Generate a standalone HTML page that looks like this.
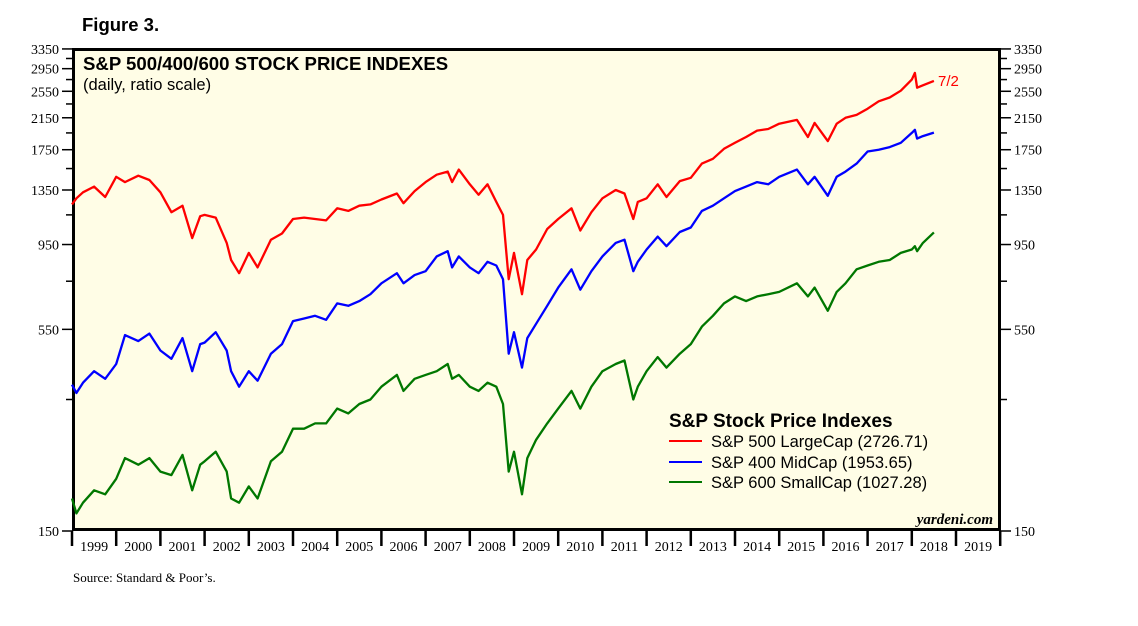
<!DOCTYPE html>
<html><head><meta charset="utf-8"><style>
body{margin:0;background:#fff;}
svg text{font-family:"Liberation Sans",sans-serif;}
</style></head><body>
<svg id="chart" width="1138" height="621" xmlns="http://www.w3.org/2000/svg">
<text x="82" y="31" font-size="18.5" font-weight="bold">Figure 3.</text>
<rect x="73.5" y="49.5" width="926" height="480" fill="#fffde6" stroke="#000" stroke-width="3"/>
<g id="grid"></g>
<g id="series"></g>
<text x="83" y="70" font-size="18.6" font-weight="bold">S&amp;P 500/400/600 STOCK PRICE INDEXES</text>
<text x="83" y="90" font-size="16.5">(daily, ratio scale)</text>
<text x="938" y="86" font-size="15" fill="#f00">7/2</text>
<g>
<text x="669" y="427" font-size="19" font-weight="bold">S&amp;P Stock Price Indexes</text>
<line x1="669" y1="441" x2="702" y2="441" stroke="#f00" stroke-width="2"/>
<text x="711" y="447" font-size="16.5">S&amp;P 500 LargeCap (2726.71)</text>
<line x1="669" y1="462" x2="702" y2="462" stroke="#00f" stroke-width="2"/>
<text x="711" y="468" font-size="16.5">S&amp;P 400 MidCap (1953.65)</text>
<line x1="669" y1="482" x2="702" y2="482" stroke="#070" stroke-width="2"/>
<text x="711" y="488" font-size="16.5">S&amp;P 600 SmallCap (1027.28)</text>
</g>
<text x="993" y="524" font-size="15" font-weight="bold" font-style="italic" text-anchor="end" style="font-family:'Liberation Serif',serif">yardeni.com</text>
<text x="73" y="582" font-size="13" style="font-family:'Liberation Serif',serif">Source: Standard &amp; Poor’s.</text>
</svg>
<script>
const dates=[1999.0,1999.1,1999.25,1999.5,1999.75,2000.0,2000.2,2000.5,2000.75,2001.0,2001.25,2001.5,2001.72,2001.9,2002.0,2002.25,2002.5,2002.6,2002.78,2003.0,2003.2,2003.5,2003.75,2004.0,2004.25,2004.5,2004.75,2005.0,2005.25,2005.5,2005.75,2006.0,2006.35,2006.5,2006.75,2007.0,2007.25,2007.5,2007.6,2007.75,2008.0,2008.2,2008.4,2008.6,2008.75,2008.88,2009.0,2009.18,2009.3,2009.5,2009.75,2010.0,2010.3,2010.5,2010.75,2011.0,2011.3,2011.5,2011.7,2011.8,2012.0,2012.25,2012.45,2012.75,2013.0,2013.25,2013.5,2013.75,2014.0,2014.25,2014.5,2014.75,2015.0,2015.4,2015.65,2015.8,2016.1,2016.3,2016.5,2016.75,2017.0,2017.25,2017.5,2017.75,2018.0,2018.07,2018.12,2018.25,2018.5];
const sp500=[1230,1280,1330,1380,1290,1470,1420,1480,1440,1330,1170,1220,990,1140,1150,1130,960,860,790,900,820,980,1020,1120,1130,1120,1110,1200,1180,1220,1230,1270,1320,1240,1340,1420,1490,1520,1420,1540,1400,1310,1400,1250,1150,760,900,690,860,920,1050,1120,1200,1040,1170,1280,1350,1320,1120,1250,1280,1400,1290,1430,1460,1600,1650,1760,1830,1900,1980,2000,2070,2120,1900,2080,1850,2070,2150,2190,2280,2390,2450,2560,2750,2870,2610,2650,2727];
const sp400=[385,365,390,420,400,440,530,510,535,480,455,520,420,500,505,540,480,420,380,420,395,470,500,580,590,600,585,650,640,660,690,740,790,740,780,800,880,910,820,880,820,790,850,830,760,470,540,430,520,570,640,720,810,710,800,880,960,980,800,850,920,1000,940,1030,1060,1180,1220,1280,1340,1380,1420,1400,1470,1540,1400,1470,1300,1470,1520,1600,1730,1750,1780,1830,1950,1990,1880,1910,1954];
const sp600=[185,168,180,195,190,210,240,230,240,220,215,245,195,230,235,250,220,185,180,200,185,235,250,290,290,300,300,330,320,340,350,380,410,370,400,410,420,440,400,410,380,370,390,380,340,220,250,190,240,270,300,330,370,330,380,420,440,450,350,380,420,460,430,470,500,560,600,650,680,660,680,690,700,740,680,720,620,700,740,810,830,850,860,900,920,940,910,960,1027];
const yTickLabels=[150,550,950,1350,1750,2150,2550,2950,3350];
const yearLabels=[1999,2000,2001,2002,2003,2004,2005,2006,2007,2008,2009,2010,2011,2012,2013,2014,2015,2016,2017,2018,2019];
const NS='http://www.w3.org/2000/svg';
const X0=72,XW=44.2,Y0=531,B=155.2,VMIN=150;
function xs(t){return X0+(t-1999)*XW;}
function ys(v){return Y0-B*Math.log(v/VMIN);}
function mk(tag,attrs,parent){const e=document.createElementNS(NS,tag);for(const k in attrs)e.setAttribute(k,attrs[k]);parent.appendChild(e);return e;}
const grid=document.getElementById('grid');
for(let v=150;v<=3350;v+=200){
  const y=ys(v);const major=yTickLabels.includes(v);
  const tl=mk('line',{x1:major?62:66,x2:72,y1:y,y2:y,stroke:'#000','stroke-width':1.5},grid);
  
  
  const tr=mk('line',{x1:1001,x2:major?1011:1007,y1:y,y2:y,stroke:'#000','stroke-width':1.5},grid);
  
  
}
yTickLabels.forEach(v=>{
  const y=ys(v)+5;
  const a=mk('text',{x:59,y:y,'font-size':14,'text-anchor':'end',style:"font-family:'Liberation Serif',serif"},grid);a.textContent=v;
  
  
  const b=mk('text',{x:1014,y:y,'font-size':14,style:"font-family:'Liberation Serif',serif"},grid);b.textContent=v;
  
  
});
for(let i=0;i<=yearLabels.length;i++){
  const x=xs(1999+i);
  const t=mk('line',{x1:x,x2:x,y1:531,y2:546,stroke:'#000','stroke-width':2.5},grid);
  
  
}
yearLabels.forEach(yr=>{
  const t=mk('text',{x:xs(yr+0.5),y:551,'font-size':14,'text-anchor':'middle',style:"font-family:'Liberation Serif',serif"},grid);t.textContent=yr;
  
  
});
const sg=document.getElementById('series');
[[sp500,'#f00','line-sp500'],[sp400,'#00f','line-sp400'],[sp600,'#070','line-sp600']].forEach(([vals,col,name])=>{
  const d=vals.map((v,i)=>(i?'L':'M')+xs(dates[i]).toFixed(1)+','+ys(v).toFixed(1)).join('');
  const p=mk('path',{d:d,fill:'none',stroke:col,'stroke-width':2.3,'stroke-linejoin':'round'},sg);
  
  
});
</script>
</body></html>
